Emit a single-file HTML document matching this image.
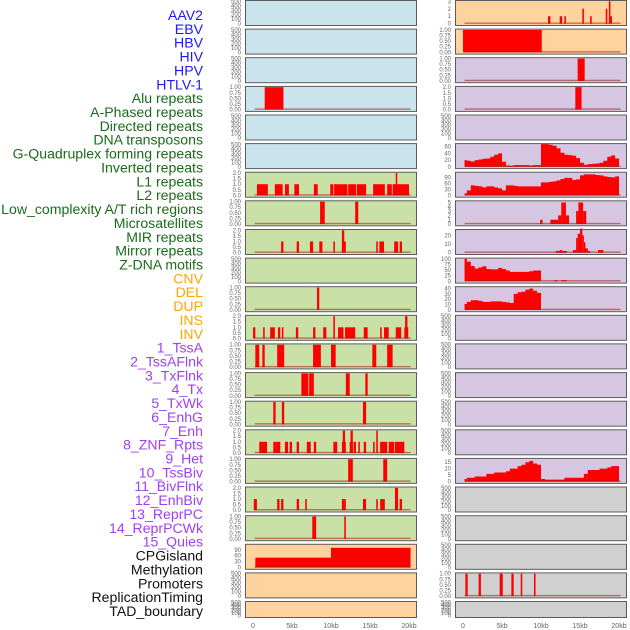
<!DOCTYPE html>
<html><head><meta charset="utf-8"><style>
html,body{margin:0;padding:0;background:#fff;}
svg{display:block;font-family:"Liberation Sans",sans-serif;}
</style></head><body>
<svg id="chart" width="630" height="630" viewBox="0 0 630 630">
<g id="labels"></g>
<g id="panels"></g>
<g id="xaxis"></g>
</svg>
<script>
// ---- Track labels ----
const trackLabels = ["AAV2","EBV","HBV","HIV","HPV","HTLV-1","Alu repeats","A-Phased repeats","Directed repeats","DNA transposons","G-Quadruplex forming repeats","Inverted repeats","L1 repeats","L2 repeats","Low_complexity A/T rich regions","Microsatellites","MIR repeats","Mirror repeats","Z-DNA motifs","CNV","DEL","DUP","INS","INV","1_TssA","2_TssAFlnk","3_TxFlnk","4_Tx","5_TxWk","6_EnhG","7_Enh","8_ZNF_Rpts","9_Het","10_TssBiv","11_BivFlnk","12_EnhBiv","13_ReprPC","14_ReprPCWk","15_Quies","CPGisland","Methylation","Promoters","ReplicationTiming","TAD_boundary"];
const labelGroups = [0,0,0,0,0,0,1,1,1,1,1,1,1,1,1,1,1,1,1,2,2,2,2,2,3,3,3,3,3,3,3,3,3,3,3,3,3,3,3,4,4,4,4,4];
const groupColors = ["#1a1aff","#1a6b1a","#ffa500","#a040f0","#111111"];

// ---- x axis ----
const xTickValues = [0,5,10,15,20];
const xTickLabels = ["0","5kb","10kb","15kb","20kb"];

// ---- tick sets ----
const ticksEmpty = ["0","100","200","300","400","500"];
const ticksUnit = ["0.00","0.25","0.50","0.75","1.00"];
const ticksTwo = ["0.0","0.5","1.0","1.5","2.0"];

// ---- Left column bar data [startKb, endKb, value] ----
const leftAluBars = [[1.5,3.9,1]];
const leftL1Bars = [[0.5,1.9,1],[2.8,3.8,1],[4.1,4.6,1],[5.3,5.9,1],[7.8,8.3,1],[9.9,10.3,1],[10.4,12.1,1],[12.2,13.2,1],[13.3,14.5,1],[15.4,16.9,1],[17.2,17.8,1],[17.9,20.0,1],[18.3,18.5,2]];
const leftRow7Bars = [[8.6,9.2,1],[13.1,13.5,1]];
const leftRow8Bars = [[3.6,3.9,1],[5.6,5.9,1],[7.3,7.7,1],[8.5,8.9,1],[10.3,10.5,1],[11.4,11.9,1],[11.4,11.7,2],[15.8,16.0,1],[16.2,16.8,1],[18.1,18.6,1],[18.8,19.1,1]];
const leftRow10Bars = [[8.2,8.5,1]];
const leftRow11Bars = [[0.0,0.3,1],[1.3,1.5,1],[2.2,2.8,1],[3.2,3.5,1],[3.7,3.9,1],[5.5,5.8,1],[7.7,8.0,1],[9.0,9.4,1],[10.3,10.5,2],[10.9,11.6,1],[11.8,13.1,1],[14.2,14.7,1],[16.3,16.5,1],[16.8,17.4,1],[18.3,19.0,1],[19.4,19.9,1],[19.5,19.8,2]];
const leftRow12Bars = [[0.3,0.8,1],[1.2,1.5,1],[3.1,4.0,1],[7.7,8.7,1],[10.0,10.6,1],[15.3,15.8,1],[17.2,17.9,1]];
const leftRow13Bars = [[6.2,7.1,1],[7.2,7.8,1],[11.9,12.4,1],[14.4,14.7,1]];
const leftRow14Bars = [[2.6,2.9,1],[3.7,4.0,1],[14.1,14.5,1]];
const leftRow15Bars = [[0.8,1.8,1],[2.6,2.9,1],[2.9,3.5,1],[4.1,4.5,1],[4.7,5.0,1],[5.6,5.9,1],[6.9,7.4,1],[7.8,8.1,1],[10.3,10.8,1],[11.4,11.9,1],[11.5,11.8,2],[12.4,12.8,1],[12.5,12.8,2],[12.9,13.2,1],[13.5,13.7,1],[14.2,14.5,1],[15.4,15.6,1],[15.8,16.0,2],[16.3,17.2,1],[17.4,18.1,1],[18.2,19.4,1]];
const leftRow16Bars = [[12.2,12.5,1],[12.5,12.8,1],[16.7,17.2,1]];
const leftRow17Bars = [[0.1,0.5,1],[3.1,3.4,1],[3.6,3.9,1],[5.6,5.9,1],[6.7,6.9,1],[11.4,11.9,1],[14.1,14.5,1],[15.8,16.0,1],[16.3,16.9,1],[18.2,18.6,2],[18.8,19.1,1]];
const leftRow18Bars = [[7.6,8.1,1],[11.7,11.9,1]];
const leftCpgBars = [[0.3,10.0,50],[10.0,20.2,100]];

// ---- Right column bar data ----
const rightRow0Bars = [[10.9,11.2,1],[12.4,12.7,1],[13.0,13.2,1],[15.3,15.5,2],[16.3,16.5,1],[18.3,18.5,2],[18.7,18.9,3],[18.9,19.1,1]];
const rightRow1Bars = [[0.0,10.1,1]];
const rightRow2Bars = [[14.7,15.6,1]];
const rightRow3Bars = [[14.4,15.2,2]];
const rightRow7Bars = [[9.9,10.2,1],[11.2,12.2,1],[12.2,12.6,2],[12.6,13.2,5],[13.2,13.6,2],[14.5,14.8,3],[14.8,15.4,5],[15.4,15.8,3]];
const rightRow8Bars = [[11.9,12.4,2],[12.4,12.7,3],[12.7,13.3,2],[14.1,14.5,3],[14.5,14.7,17],[14.7,15.0,22],[15.0,15.3,28],[15.3,15.5,20],[15.5,15.7,12],[15.7,16.0,5],[16.0,16.3,2],[17.3,18.0,3]];
const rightRow9Bars = [[11.7,12.1,5],[12.6,13.3,5]];
const rightRow20Bars = [[0.3,0.6,1],[2.0,2.3,1],[4.7,5.1,1],[6.2,6.5,1],[7.4,7.6,1],[9.1,9.3,1]];

// ---- Right column area data (0.5 kb bins starting at 0 kb) ----
const rightRow5Area = [20,18,16,20,22,24,25,30,36,40,15,4,3,5,5,5,5,4,5,5,68,68,66,63,55,42,36,35,33,26,12,6,8,9,10,12,18,30,34,25];
const rightRow6Area = [10,25,50,48,45,40,45,45,40,35,25,50,50,48,45,45,45,45,45,45,65,65,68,70,75,82,88,88,78,80,100,105,105,105,102,100,95,92,90,95];
const rightRow9Area = [100,88,68,57,62,67,55,53,53,60,55,48,42,42,42,42,42,45,48,48];
const rightRow10Area = [11,15,18,18,17,15,15,16,16,16,15,14,13,30,33,34,38,40,36,32];
const rightRow16Area = [2,3,3,4,4,4,6,6,7,7,7,8,10,10,12,13,15,16,14,13,2,1.5,1.5,1.5,1.5,1.5,3,3,3,3,3,6,9,9,9,10,10,11,12,12];

const BG = {blue:"#c9e4ec",green:"#c9e1a6",peach:"#ffd29e",lav:"#d6c6e2",gray:"#d0d0d0"};
const leftPanels = [
 {bg:"blue",ticks:ticksEmpty,dmax:500},
 {bg:"blue",ticks:ticksEmpty,dmax:500},
 {bg:"blue",ticks:ticksEmpty,dmax:500},
 {bg:"blue",ticks:ticksUnit,dmax:1,bars:leftAluBars},
 {bg:"blue",ticks:ticksEmpty,dmax:500},
 {bg:"blue",ticks:ticksEmpty,dmax:500},
 {bg:"green",ticks:ticksTwo,dmax:2,bars:leftL1Bars},
 {bg:"green",ticks:ticksUnit,dmax:1,bars:leftRow7Bars},
 {bg:"green",ticks:ticksTwo,dmax:2,bars:leftRow8Bars},
 {bg:"green",ticks:ticksEmpty,dmax:500},
 {bg:"green",ticks:ticksUnit,dmax:1,bars:leftRow10Bars},
 {bg:"green",ticks:ticksTwo,dmax:2,bars:leftRow11Bars},
 {bg:"green",ticks:ticksUnit,dmax:1,bars:leftRow12Bars},
 {bg:"green",ticks:ticksUnit,dmax:1,bars:leftRow13Bars},
 {bg:"green",ticks:ticksUnit,dmax:1,bars:leftRow14Bars},
 {bg:"green",ticks:ticksTwo,dmax:2,bars:leftRow15Bars},
 {bg:"green",ticks:ticksUnit,dmax:1,bars:leftRow16Bars},
 {bg:"green",ticks:ticksTwo,dmax:2,bars:leftRow17Bars},
 {bg:"green",ticks:ticksUnit,dmax:1,bars:leftRow18Bars},
 {bg:"peach",ticks:["0","30","60","90"],tickVals:[0,30,60,90],dmax:114,bars:leftCpgBars},
 {bg:"peach",ticks:ticksEmpty,dmax:500},
 {bg:"peach",ticks:ticksEmpty,dmax:500}
];
const rightPanels = [
 {bg:"peach",ticks:["0","1","2","3"],tickVals:[0,1,2,3],dmax:3,bars:rightRow0Bars},
 {bg:"peach",ticks:ticksUnit,dmax:1,bars:rightRow1Bars},
 {bg:"lav",ticks:ticksUnit,dmax:1,bars:rightRow2Bars},
 {bg:"lav",ticks:ticksTwo,dmax:2,bars:rightRow3Bars},
 {bg:"lav",ticks:ticksEmpty,dmax:500},
 {bg:"lav",ticks:["0","20","40","60"],tickVals:[0,20,40,60],dmax:67,area:rightRow5Area},
 {bg:"lav",ticks:["0","30","60","90"],tickVals:[0,30,60,90],dmax:112,area:rightRow6Area},
 {bg:"lav",ticks:["0","1","2","3","4","5"],tickVals:[0,1,2,3,4,5],dmax:5.2,bars:rightRow7Bars},
 {bg:"lav",ticks:["0","10","20"],tickVals:[0,10,20],dmax:26,bars:rightRow8Bars},
 {bg:"lav",ticks:["0","25","50","75","100"],tickVals:[0,25,50,75,100],dmax:100,area:rightRow9Area,bars:rightRow9Bars},
 {bg:"lav",ticks:["0","10","20","30","40"],tickVals:[0,10,20,30,40],dmax:42,area:rightRow10Area},
 {bg:"lav",ticks:ticksEmpty,dmax:500},
 {bg:"lav",ticks:ticksEmpty,dmax:500},
 {bg:"lav",ticks:ticksEmpty,dmax:500},
 {bg:"lav",ticks:ticksEmpty,dmax:500},
 {bg:"lav",ticks:ticksEmpty,dmax:500},
 {bg:"lav",ticks:["0","5","10","15"],tickVals:[0,5,10,15],dmax:17.3,area:rightRow16Area},
 {bg:"gray",ticks:ticksEmpty,dmax:500},
 {bg:"gray",ticks:ticksEmpty,dmax:500},
 {bg:"gray",ticks:ticksEmpty,dmax:500},
 {bg:"gray",ticks:ticksUnit,dmax:1,bars:rightRow20Bars},
 {bg:"gray",ticks:ticksEmpty,dmax:500}
];

const NS="http://www.w3.org/2000/svg";
function mk(tag,attrs,parent){const e=document.createElementNS(NS,tag);for(const k in attrs)e.setAttribute(k,attrs[k]);parent.appendChild(e);return e;}
const labelsG=document.getElementById('labels');
trackLabels.forEach((t,i)=>{
  const e=mk('text',{x:203,y:(15+13.86*i+5).toFixed(1),'text-anchor':'end','font-size':'14.1',fill:groupColors[labelGroups[i]]},labelsG);
  
  
  e.textContent=t;
});
const panelsG=document.getElementById('panels');
const KBPX=7.8;
function drawColumn(panels,px,x0,side){
  panels.forEach((p,i)=>{
    const top=i*28.62, h=(i===panels.length-1)?16:25;
    const g=mk('g',{},panelsG);
    
    
    const bg=mk('rect',{x:px+0.5,y:(top+0.5).toFixed(1),width:171,height:h,fill:BG[p.bg],stroke:'#5c5c5c','stroke-width':1},g);
    
    
    const zero=top+h-1.3, span=h-2.6;
    const yv=v=>zero-v/p.dmax*span;
    const xk=k=>x0+k*KBPX;
    const tv=p.tickVals || p.ticks.map((_,j)=>j*p.dmax/(p.ticks.length-1));
    p.ticks.forEach((t,j)=>{
      const e=mk('text',{x:px-4,y:(yv(tv[j])+2).toFixed(1),'text-anchor':'end','font-size':'6',fill:'#666'},g);
      
      
      e.textContent=t;
    });
    const hasData=p.bars||p.area;
    if(p.area){
      let d='M'+xk(0.2).toFixed(2)+','+zero.toFixed(2);
      p.area.forEach((v,j)=>{
        const a=Math.max(0.2,j*0.5), b=j*0.5+0.5;
        d+=' L'+xk(a).toFixed(2)+','+yv(v).toFixed(2)+' L'+xk(b).toFixed(2)+','+yv(v).toFixed(2);
      });
      d+=' L'+xk(p.area.length*0.5).toFixed(2)+','+zero.toFixed(2)+' Z';
      const e=mk('path',{d:d,fill:'#ff0000'},g);
      
      
    }
    if(p.bars){
      p.bars.forEach(b=>{
        const e=mk('rect',{x:xk(b[0]).toFixed(2),y:yv(b[2]).toFixed(2),width:((b[1]-b[0])*KBPX).toFixed(2),height:(zero-yv(b[2])).toFixed(2),fill:'#ff0000'},g);
        
        
      });
    }
    if(hasData){
      const e=mk('rect',{x:xk(0.2).toFixed(2),y:(zero-1.2).toFixed(2),width:(20*KBPX).toFixed(2),height:1.4,fill:'rgba(170,20,20,0.55)'},g);
      
      
    }
  });
  const xg=document.getElementById('xaxis');
  xTickValues.forEach((v,j)=>{
    const e=mk('text',{x:(x0+v*KBPX).toFixed(1),y:628,'text-anchor':'middle','font-size':'7',fill:'#666'},xg);
    
    
    e.textContent=xTickLabels[j];
  });
}
drawColumn(leftPanels,245,253,'left');
drawColumn(rightPanels,455,463,'right');
</script>
</body></html>
